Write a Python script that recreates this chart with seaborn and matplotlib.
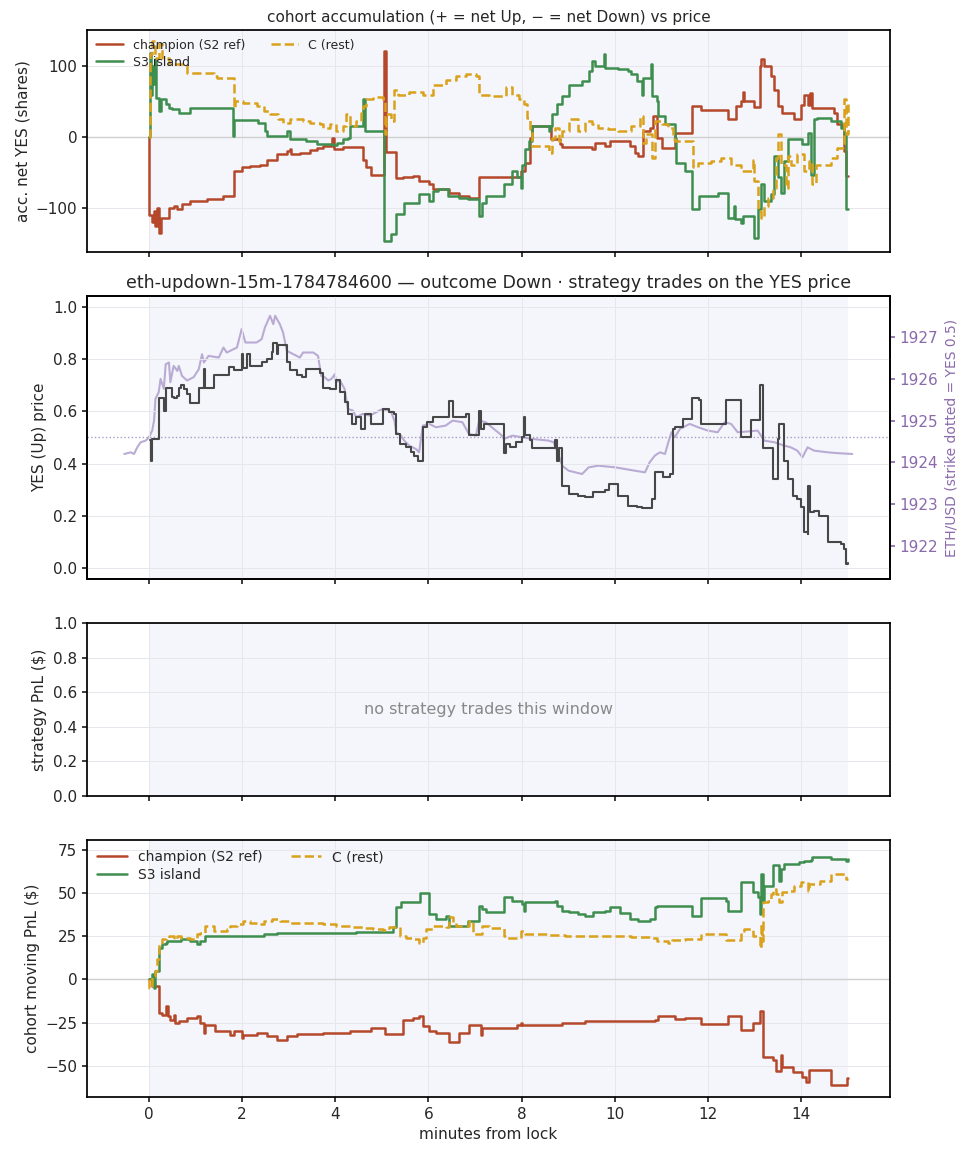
import numpy as np
import pandas as pd
import matplotlib
matplotlib.use("Agg")
import matplotlib.pyplot as plt
import seaborn as sns

# ---------------- data ----------------
# panel 1: accumulated net YES shares (steps-post)
acc_champ_t = [0.00, 0.01, 0.07, 0.11, 0.14, 0.18, 0.21, 0.25, 0.43, 0.53, 0.61, 0.71, 0.89, 1.25, 1.60, 1.82, 1.99, 2.17, 2.39, 2.53, 2.74, 2.96, 3.03, 3.06, 3.24, 3.46, 3.60, 3.74, 3.94, 3.97, 4.17, 4.59, 4.67, 4.77, 5.04, 5.08, 5.31, 5.45, 5.66, 5.80, 6.02, 6.09, 6.45, 6.66, 6.87, 7.09, 7.98, 8.08, 8.19, 8.23, 8.64, 8.83, 8.87, 9.51, 9.58, 9.79, 9.90, 10.33, 10.44, 10.50, 10.61, 10.75, 10.83, 10.90, 11.01, 11.29, 11.65, 11.86, 12.43, 12.61, 12.71, 12.75, 12.78, 12.99, 13.11, 13.14, 13.21, 13.36, 13.43, 13.50, 13.60, 13.85, 14.00, 14.07, 14.14, 14.19, 14.24, 14.71, 14.78, 14.89, 14.92, 14.96, 15.00]
acc_champ_v = [0, -110, -120, -105, -125, -100, -135, -114, -100, -98, -102, -95, -90, -88, -83, -48, -43, -41, -39, -32, -24, -20, -17, -24, -22, -19, -15, -13, -1, -17, -14, -32, -43, -54, 121, -21, -58, -56, -55, -62, -66, -74, -79, -83, -86, -57, -48, -36, -1, 15, -3, -10, -14, -17, -8, -13, -6, -13, -22, -27, 8, 13, 30, -1, -15, 6, 44, 38, 25, 44, 51, 63, 51, 42, 100, 110, 100, 86, 67, 44, 34, 25, 45, 60, 45, 62, 41, 34, 18, 15, -20, -55, -55]

acc_s3_t = [0.00, 0.03, 0.05, 0.07, 0.09, 0.12, 0.15, 0.21, 0.25, 0.36, 0.43, 0.50, 0.64, 0.89, 1.80, 1.82, 2.35, 2.49, 2.53, 2.96, 3.03, 3.38, 3.60, 3.95, 4.03, 4.17, 4.27, 4.31, 4.59, 4.63, 5.04, 5.20, 5.31, 5.48, 5.80, 6.02, 6.09, 6.20, 6.41, 6.66, 6.84, 7.09, 7.16, 7.23, 7.62, 7.80, 7.91, 7.98, 8.01, 8.08, 8.16, 8.23, 8.58, 8.62, 8.65, 8.76, 8.87, 9.01, 9.30, 9.44, 9.51, 9.58, 9.78, 9.80, 10.08, 10.29, 10.36, 10.47, 10.58, 10.61, 10.78, 10.81, 10.90, 10.93, 11.08, 11.29, 11.32, 11.50, 11.65, 11.82, 12.21, 12.43, 12.56, 12.59, 12.71, 12.75, 13.00, 13.07, 13.14, 13.21, 13.36, 13.43, 13.50, 13.57, 13.64, 13.71, 14.03, 14.14, 14.21, 14.28, 14.35, 14.64, 14.85, 14.92, 14.96, 15.00]
acc_s3_v = [0, 119, 60, 100, 75, 110, 55, 37, 53, 46, 41, 39, 34, 41, 1, 24, 20, 8, 2, 8, -3, -6, -10, -11, -8, -3, -1, 16, 53, 8, -147, -137, -109, -93, -81, -90, -76, -74, -83, -86, -88, -112, -93, -83, -67, -48, -57, -72, -39, -17, -6, 15, 8, 15, 32, 46, 58, 74, 79, 93, 107, 100, 117, 98, 96, 93, 89, 79, 60, 84, 103, 58, 51, 30, 18, -1, -36, -48, -102, -83, -79, -114, -97, -116, -121, -112, -142, -102, -67, -90, -81, -27, -57, -79, -34, -3, -10, 6, -53, 25, 27, 23, 13, 4, -102, -102]

acc_c_t = [0.00, 0.02, 0.07, 0.14, 0.21, 0.29, 0.43, 0.82, 1.39, 1.46, 1.82, 1.85, 2.03, 2.31, 2.46, 2.60, 2.78, 2.88, 3.03, 3.31, 3.45, 3.67, 3.74, 3.88, 4.02, 4.17, 4.24, 4.31, 4.45, 4.56, 4.59, 4.67, 4.81, 5.02, 5.06, 5.09, 5.20, 5.27, 5.34, 5.59, 5.88, 6.09, 6.38, 6.59, 6.81, 7.02, 7.09, 7.30, 7.66, 7.80, 7.94, 8.05, 8.12, 8.19, 8.23, 8.58, 8.65, 8.72, 8.80, 8.87, 9.01, 9.22, 9.37, 9.51, 9.65, 9.86, 10.08, 10.36, 10.54, 10.61, 10.68, 10.79, 10.86, 11.01, 11.15, 11.25, 11.29, 11.68, 11.79, 12.07, 12.29, 12.50, 12.71, 12.96, 13.00, 13.07, 13.14, 13.21, 13.28, 13.39, 13.46, 13.50, 13.57, 13.68, 13.71, 13.78, 13.92, 14.07, 14.17, 14.24, 14.32, 14.64, 14.78, 14.92, 14.96, 15.00]
acc_c_v = [0, 117, 136, 112, 131, 112, 103, 91, 86, 84, 41, 51, 48, 44, 37, 32, 25, 20, 25, 23, 20, 18, 13, 18, 8, 16, 32, 16, 23, 34, 44, 53, 56, 53, 4, 32, 23, 67, 60, 63, 60, 74, 81, 86, 89, 86, 60, 58, 70, 60, 53, 46, 27, 11, -13, -22, -1, 13, -6, 8, 25, 8, 23, 18, 13, 11, 8, 16, 30, -8, 4, -29, 23, 18, 13, -3, -6, -43, -36, -34, -29, -39, -48, -32, -62, -105, -114, -97, -86, -72, -29, 4, -39, -72, -27, -39, -24, -48, -34, -67, -39, -29, -15, 53, 4, 46]

# panel 2: YES (Up) price (steps-post) and ETH/USD
yes_t = [0.03, 0.04, 0.07, 0.21, 0.32, 0.36, 0.50, 0.53, 0.61, 0.64, 0.68, 0.75, 0.82, 0.89, 1.07, 1.18, 1.21, 1.39, 1.71, 1.82, 2.00, 2.03, 2.10, 2.17, 2.42, 2.53, 2.64, 2.67, 2.74, 2.78, 2.96, 3.03, 3.17, 3.28, 3.38, 3.67, 3.74, 3.88, 4.02, 4.10, 4.20, 4.27, 4.35, 4.45, 4.56, 4.63, 4.77, 5.02, 5.16, 5.27, 5.31, 5.38, 5.52, 5.63, 5.70, 5.77, 5.88, 5.98, 6.09, 6.45, 6.52, 6.80, 6.87, 7.09, 7.13, 7.20, 7.62, 7.66, 7.76, 7.87, 8.01, 8.05, 8.08, 8.19, 8.23, 8.72, 8.76, 8.80, 8.87, 9.01, 9.22, 9.37, 9.54, 9.79, 9.87, 10.08, 10.29, 10.47, 10.58, 10.79, 10.86, 11.04, 11.18, 11.25, 11.29, 11.47, 11.65, 11.82, 11.86, 12.39, 12.71, 12.93, 13.11, 13.18, 13.39, 13.50, 13.53, 13.64, 13.71, 13.82, 13.92, 13.99, 14.07, 14.14, 14.16, 14.19, 14.28, 14.39, 14.57, 14.85, 14.92, 14.96, 15.00]
yes_v = [0.49, 0.41, 0.495, 0.65, 0.60, 0.69, 0.655, 0.65, 0.66, 0.69, 0.70, 0.687, 0.668, 0.63, 0.69, 0.76, 0.69, 0.74, 0.77, 0.757, 0.82, 0.765, 0.82, 0.775, 0.79, 0.80, 0.827, 0.86, 0.82, 0.852, 0.79, 0.757, 0.74, 0.73, 0.76, 0.745, 0.69, 0.687, 0.72, 0.675, 0.636, 0.59, 0.553, 0.58, 0.534, 0.59, 0.553, 0.61, 0.598, 0.59, 0.515, 0.476, 0.463, 0.444, 0.431, 0.412, 0.54, 0.56, 0.58, 0.64, 0.58, 0.59, 0.508, 0.60, 0.534, 0.553, 0.44, 0.476, 0.463, 0.483, 0.502, 0.578, 0.508, 0.489, 0.46, 0.489, 0.412, 0.46, 0.316, 0.285, 0.278, 0.272, 0.29, 0.30, 0.323, 0.278, 0.24, 0.234, 0.23, 0.265, 0.368, 0.348, 0.361, 0.534, 0.54, 0.572, 0.649, 0.642, 0.553, 0.642, 0.502, 0.566, 0.70, 0.46, 0.342, 0.495, 0.553, 0.412, 0.342, 0.278, 0.265, 0.234, 0.138, 0.131, 0.316, 0.214, 0.22, 0.20, 0.10, 0.093, 0.074, 0.016, 0.02]

eth_t = [-0.53, -0.39, -0.32, -0.25, -0.18, -0.07, 0.00, 0.07, 0.11, 0.14, 0.21, 0.25, 0.32, 0.36, 0.43, 0.46, 0.53, 0.61, 0.64, 0.71, 0.82, 0.96, 1.07, 1.14, 1.18, 1.28, 1.50, 1.60, 1.67, 1.89, 1.99, 2.07, 2.31, 2.42, 2.49, 2.60, 2.67, 2.71, 2.81, 2.88, 2.96, 3.10, 3.24, 3.31, 3.53, 3.63, 3.70, 3.77, 3.85, 3.92, 3.99, 4.02, 4.10, 4.20, 4.27, 4.38, 4.45, 4.59, 4.74, 4.88, 5.02, 5.20, 5.27, 5.31, 5.41, 5.48, 5.59, 5.73, 5.80, 5.88, 6.02, 6.16, 6.37, 6.52, 6.73, 6.87, 7.02, 7.09, 7.23, 7.58, 7.62, 7.80, 8.23, 8.58, 8.69, 8.80, 8.87, 9.01, 9.30, 9.44, 9.65, 10.01, 10.22, 10.43, 10.65, 10.75, 10.86, 10.97, 11.08, 11.15, 11.22, 11.29, 11.40, 11.61, 11.79, 12.00, 12.21, 12.36, 12.50, 12.64, 13.07, 13.21, 13.43, 13.64, 13.78, 13.92, 14.03, 14.14, 14.28, 14.57, 14.78, 15.10]
eth_v = [1924.20, 1924.24, 1924.20, 1924.36, 1924.48, 1924.52, 1924.60, 1924.76, 1925.00, 1925.52, 1925.68, 1926.00, 1925.76, 1926.35, 1926.39, 1925.92, 1926.31, 1926.19, 1926.31, 1926.07, 1925.96, 1926.04, 1926.23, 1926.59, 1926.39, 1926.55, 1926.51, 1926.75, 1926.63, 1926.75, 1927.19, 1926.87, 1926.87, 1926.95, 1927.23, 1927.51, 1927.31, 1927.51, 1927.31, 1927.11, 1926.67, 1926.59, 1926.51, 1926.63, 1926.63, 1926.55, 1926.07, 1926.04, 1925.96, 1926.00, 1926.11, 1925.92, 1925.96, 1925.76, 1925.28, 1925.24, 1925.08, 1925.16, 1925.12, 1925.20, 1925.28, 1925.20, 1925.00, 1924.72, 1924.64, 1924.52, 1924.40, 1924.32, 1924.24, 1924.88, 1924.92, 1924.84, 1924.88, 1925.00, 1924.96, 1924.68, 1924.64, 1925.00, 1924.96, 1924.64, 1924.56, 1924.64, 1924.56, 1924.52, 1924.48, 1924.16, 1923.92, 1923.80, 1923.72, 1923.88, 1923.92, 1923.88, 1923.84, 1923.80, 1923.76, 1924.00, 1924.16, 1924.24, 1924.20, 1924.48, 1924.72, 1924.60, 1924.80, 1924.92, 1924.84, 1924.76, 1924.72, 1924.96, 1924.92, 1924.72, 1924.76, 1924.52, 1924.48, 1924.40, 1924.36, 1924.28, 1924.12, 1924.36, 1924.28, 1924.24, 1924.22, 1924.20]
strike = 1924.58

# panel 4: cohort moving PnL ($)
pnl_champ_t = [0.00, 0.07, 0.21, 0.28, 0.36, 0.41, 0.46, 0.53, 0.57, 0.64, 0.82, 1.03, 1.10, 1.18, 1.21, 1.42, 1.75, 1.82, 1.99, 2.03, 2.31, 2.53, 2.74, 2.96, 3.17, 3.74, 4.31, 4.59, 4.77, 5.06, 5.45, 5.66, 5.80, 5.88, 6.02, 6.16, 6.45, 6.66, 6.87, 7.12, 7.16, 7.91, 7.98, 8.01, 8.87, 9.37, 10.86, 10.93, 11.29, 11.50, 11.86, 12.43, 12.71, 12.96, 13.11, 13.18, 13.39, 13.46, 13.57, 13.60, 13.82, 14.03, 14.10, 14.17, 14.64, 14.98, 15.00]
pnl_champ_v = [0, -3.9, -19.4, -20.3, -15.5, -21.3, -23.3, -20.3, -25.2, -24.2, -22.3, -21.3, -25.2, -31, -26.2, -30, -32, -30, -33.9, -32, -31, -32.9, -34.9, -32.9, -31.6, -31, -30, -29.7, -28.1, -31.6, -23.3, -22.3, -21.3, -27.1, -30, -31, -35.9, -31, -26.2, -32, -28.1, -26.2, -25.2, -26.2, -25.2, -24.2, -23.3, -21.3, -22.7, -22.3, -25.8, -21.3, -29, -25.2, -18.4, -44.6, -46.5, -52.9, -43.6, -50.4, -53.3, -56.2, -59.1, -52.3, -61, -57.2, -57.2]

pnl_s3_t = [0.00, 0.07, 0.11, 0.14, 0.21, 0.28, 0.36, 0.39, 0.68, 0.89, 1.03, 1.10, 1.21, 2.46, 2.74, 4.45, 5.23, 5.31, 5.41, 5.81, 6.02, 6.16, 6.38, 6.45, 6.84, 7.09, 7.16, 7.23, 7.62, 7.80, 8.01, 8.05, 8.08, 8.72, 8.76, 8.87, 9.01, 9.22, 9.37, 9.54, 9.79, 9.90, 10.11, 10.33, 10.50, 10.75, 10.86, 10.90, 11.65, 11.86, 12.39, 12.43, 12.71, 12.96, 13.07, 13.11, 13.14, 13.18, 13.21, 13.39, 13.53, 13.57, 13.64, 13.96, 14.07, 14.21, 14.24, 14.64, 14.96, 15.00]
pnl_s3_v = [0, 2.9, -4.8, 4.8, 18.4, 20.3, 21.3, 22.3, 23.3, 22.3, 20.3, 22.3, 25.2, 26.6, 27.1, 27.7, 30.4, 41.7, 44.6, 49.8, 37.8, 34.9, 36.8, 31, 33.9, 42.6, 40.7, 38.8, 47.5, 45.5, 43.6, 39.7, 44.6, 45.5, 42.6, 39.7, 38.8, 37.8, 36.8, 38.8, 39.7, 42.1, 38.2, 34.9, 33.9, 34.9, 41.7, 42.6, 36.8, 46.9, 45.5, 39.7, 56.2, 50.4, 47.5, 37.8, 61, 45.5, 54.3, 66.5, 57.2, 64, 66.9, 67.8, 68.4, 69.2, 70.7, 69.8, 68.8, 69.8]

pnl_c_t = [0.00, 0.01, 0.07, 0.14, 0.18, 0.21, 0.28, 0.36, 0.43, 0.53, 0.61, 0.68, 0.89, 1.03, 1.10, 1.21, 1.39, 1.67, 1.75, 1.89, 2.03, 2.17, 2.31, 2.46, 2.64, 2.81, 3.03, 3.31, 3.74, 4.02, 4.31, 4.59, 4.81, 5.02, 5.16, 5.38, 5.52, 5.66, 5.80, 5.88, 5.95, 6.09, 6.38, 6.45, 6.52, 6.59, 6.87, 6.95, 7.16, 7.30, 7.62, 7.66, 7.98, 8.08, 8.58, 8.94, 10.36, 10.79, 10.90, 11.15, 11.22, 11.50, 11.86, 12.39, 12.71, 12.78, 12.96, 13.11, 13.14, 13.16, 13.18, 13.28, 13.36, 13.39, 13.46, 13.53, 13.60, 13.71, 13.85, 13.99, 14.14, 14.17, 14.41, 14.64, 14.96, 15.00]
pnl_c_v = [0, -4.8, 1.9, 4.8, 11.6, 20.3, 23.3, 24.2, 25.2, 23.3, 25.2, 24.2, 23.3, 26.2, 27.1, 31, 28.1, 29.1, 31, 32, 33.9, 32.9, 32, 33.9, 34.9, 33.9, 32.9, 32.4, 32, 31, 30.4, 29.7, 29.1, 28.5, 30.4, 25.2, 24.2, 23.3, 21.3, 24.2, 29.1, 31, 30.4, 35.9, 32.9, 31, 33.9, 26.2, 31, 30, 25.2, 24.2, 28.1, 26.6, 25.8, 25.2, 24.6, 24.2, 22.3, 21.3, 22.7, 23.3, 26.2, 22.7, 28.1, 29.1, 25.2, 18.4, 32, 22, 44.6, 45.5, 49.4, 52.3, 49.4, 44.6, 50.4, 51.4, 54.3, 56.2, 51.4, 55.2, 57.2, 61, 58.1, 58.1]

cohorts = ["champion (S2 ref)", "S3 island", "C (rest)"]
window_end = 15.0

# ---------------- style ----------------
sns.set_theme(style="ticks")
plt.rcParams['font.family'] = ['DejaVu Sans']
plt.rcParams['axes.edgecolor'] = 'black'
plt.rcParams['xtick.major.size'] = 3.5
plt.rcParams['ytick.major.size'] = 3.5

C_CHAMP = "#b5482a"
C_S3 = "#3e8e4f"
C_C = "#daa21c"
C_YES = "#474747"
C_ETH = "#b3a3cf"
C_PURP = "#8a6aab"
BAND = "#f5f6fb"

fig, axes = plt.subplots(4, 1, figsize=(9.73, 11.56), dpi=100, sharex=True,
                         gridspec_kw=dict(height_ratios=[222, 283, 173, 257]))
fig.subplots_adjust(left=0.0894, right=0.9147, top=0.974, bottom=0.051, hspace=0.19)
ax1, ax2, ax3, ax4 = axes

ax2b = ax2.twinx()
for ax in [ax1, ax2b, ax3, ax4]:
    ax.axvspan(0, window_end, color=BAND, zorder=0, lw=0)
for ax in axes:
    ax.grid(True, color="#e6e6ec", lw=0.7, zorder=0.5)
    ax.set_axisbelow(True)
    ax.tick_params(labelsize=11, length=3.5)


def steps(ax, t, v, color, label, ls="-"):
    df = pd.DataFrame({"t": t, "v": v})
    sns.lineplot(data=df, x="t", y="v", ax=ax, color=color, lw=1.8, ls=ls,
                 drawstyle="steps-post", estimator=None, sort=False, label=label)

# panel 1
ax1.axhline(0, color="#d0d0d0", lw=1, zorder=1)
steps(ax1, acc_champ_t, acc_champ_v, C_CHAMP, cohorts[0])
steps(ax1, acc_s3_t, acc_s3_v, C_S3, cohorts[1])
steps(ax1, acc_c_t, acc_c_v, C_C, cohorts[2], ls="--")
ax1.set_ylim(-162, 151)
ax1.set_yticks([-100, 0, 100])
ax1.set_ylabel("acc. net YES (shares)", fontsize=11)
ax1.set_xlabel("")
ax1.set_title("cohort accumulation (+ = net Up, \u2212 = net Down) vs price", fontsize=11)
ax1.legend(ncol=2, loc="upper left", fontsize=9, frameon=False, borderaxespad=0.3,
           handlelength=2.2, labelspacing=0.3)

# panel 2
sns.lineplot(x=eth_t, y=eth_v, ax=ax2b, color=C_ETH, lw=1.5, estimator=None, sort=False, alpha=0.9)
ax2b.set_ylim(1921.21, 1927.98)
ax2b.set_yticks([1922, 1923, 1924, 1925, 1926, 1927])
ax2b.tick_params(axis="y", colors=C_PURP, labelsize=11, length=3.5)
ax2b.set_ylabel("ETH/USD (strike dotted = YES 0.5)", color=C_PURP, fontsize=10)
ax2b.grid(False)
ax2.set_zorder(ax2b.get_zorder() + 1)
ax2.patch.set_visible(False)

ax2.axhline(0.5, color="#a99cc6", ls=":", lw=1, zorder=1)
sns.lineplot(x=yes_t, y=yes_v, ax=ax2, color=C_YES, lw=1.5, drawstyle="steps-post",
             estimator=None, sort=False, zorder=3)
ax2.set_ylim(-0.04, 1.04)
ax2.set_yticks([0.0, 0.2, 0.4, 0.6, 0.8, 1.0])
ax2.set_ylabel("YES (Up) price", fontsize=11)
ax2.set_title("eth-updown-15m-1784784600 \u2014 outcome Down \u00b7 strategy trades on the YES price",
              fontsize=12.5)

# panel 3
ax3.set_ylim(0, 1)
ax3.set_yticks([0.0, 0.2, 0.4, 0.6, 0.8, 1.0])
ax3.set_ylabel("strategy PnL ($)", fontsize=11)
ax3.text(0.5, 0.5, "no strategy trades this window", transform=ax3.transAxes,
         ha="center", va="center", color="#888888", fontsize=11.5)

# panel 4
ax4.axhline(0, color="#d0d0d0", lw=1, zorder=1)
steps(ax4, pnl_champ_t, pnl_champ_v, C_CHAMP, cohorts[0])
steps(ax4, pnl_s3_t, pnl_s3_v, C_S3, cohorts[1])
steps(ax4, pnl_c_t, pnl_c_v, C_C, cohorts[2], ls="--")
ax4.set_ylim(-68, 80.5)
ax4.set_yticks([-50, -25, 0, 25, 50, 75])
ax4.set_ylabel("cohort moving PnL ($)", fontsize=11)
ax4.legend(ncol=2, loc="upper left", fontsize=10, frameon=False, borderaxespad=0.3,
           handlelength=2.2, labelspacing=0.3)
ax4.set_xticks([0, 2, 4, 6, 8, 10, 12, 14])
ax4.set_xlabel("minutes from lock", fontsize=11)
ax4.set_xlim(-1.33, 15.91)

fig.savefig("out.png", dpi=100)
